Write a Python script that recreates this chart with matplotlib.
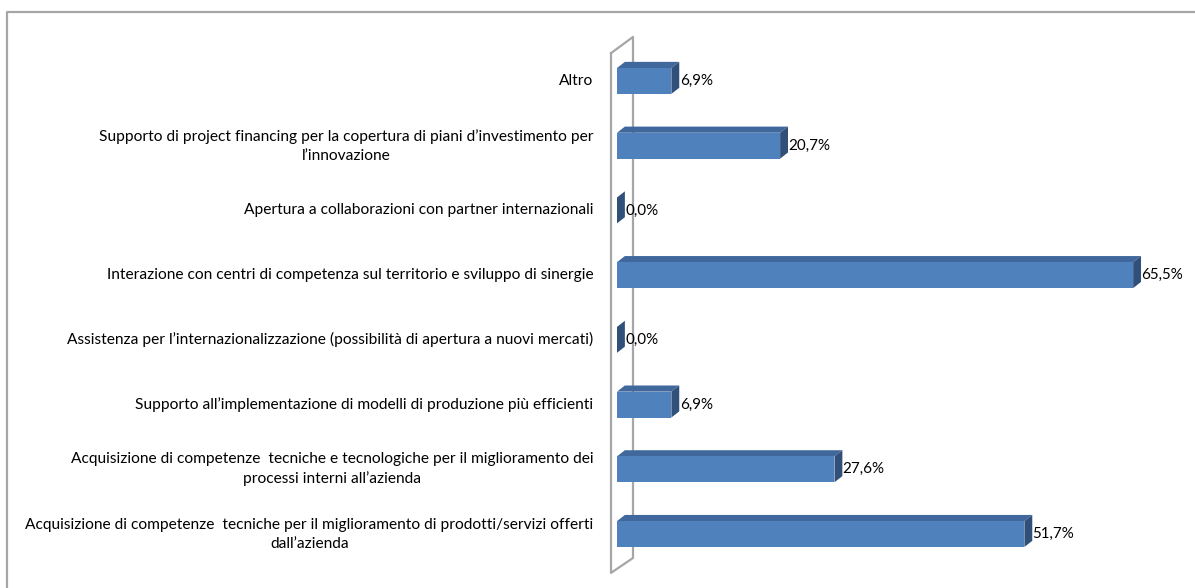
import matplotlib
matplotlib.use('Agg')
import matplotlib.pyplot as plt
from matplotlib.patches import Polygon
from matplotlib.lines import Line2D

# categories listed bottom to top
categories = [
    "Acquisizione di competenze  tecniche per il miglioramento di prodotti/servizi offerti\ndall\u2019azienda",
    "Acquisizione di competenze  tecniche e tecnologiche per il miglioramento dei\nprocessi interni all\u2019azienda",
    "Supporto all\u2019implementazione di modelli di produzione pi\u00f9 efficienti",
    "Assistenza per l\u2019internazionalizzazione (possibilit\u00e0 di apertura a nuovi mercati)",
    "Interazione con centri di competenza sul territorio e sviluppo di sinergie",
    "Apertura a collaborazioni con partner internazionali",
    "Supporto di project financing per la copertura di piani d\u2019investimento per\nl\u2019innovazione",
    "Altro",
]
values = [51.7, 27.6, 6.9, 0.0, 65.5, 0.0, 20.7, 6.9]
value_labels = ["51,7%", "27,6%", "6,9%", "0,0%", "65,5%", "0,0%", "20,7%", "6,9%"]

FRONT = '#4f81bd'
TOP = '#41689c'
SIDE = '#30507a'
WALL = '#a6a6a6'

plt.rcParams['font.family'] = ['Lato', 'DejaVu Sans']

W, H = 1195, 588
fig = plt.figure(figsize=(W / 100, H / 100), dpi=100)

# plot area in pixels: x=0 at 617px, 70% at 1168.6px; rows 64.7px apart
left_px, right_px = 617, 617 + 70 * 7.88
top_px, bot_px = 48.6, 566.4
ax = fig.add_axes([left_px / W, 1 - bot_px / H, (right_px - left_px) / W, (bot_px - top_px) / H])
ax.set_xlim(0, 70)
ax.set_ylim(-0.5, 7.5)
ax.axis('off')

bar_h = 0.40
dx, dy = 1.0, 0.095   # depth of the 3D extrusion in data units

ys = list(range(len(values)))
ax.barh(ys, values, height=bar_h, color=FRONT, edgecolor='none', zorder=3)

val_texts = []
for y, v, lab in zip(ys, values, value_labels):
    y0, y1 = y - bar_h / 2, y + bar_h / 2
    top = Polygon([(0, y1), (v, y1), (v + dx, y1 + dy), (dx, y1 + dy)],
                  closed=True, facecolor=TOP, edgecolor='none', zorder=2)
    side = Polygon([(v, y0), (v + dx, y0 + dy), (v + dx, y1 + dy), (v, y1)],
                   closed=True, facecolor=SIDE, edgecolor='none', zorder=4)
    ax.add_patch(top)
    ax.add_patch(side)
    val_texts.append(ax.text(v + dx + 0.05, y, lab, ha='left', va='center',
                             fontsize=10.5, color='black', zorder=5))

# category labels, right aligned, multi-line centred
cat_texts = []
for y, c in zip(ys, categories):
    cat_texts.append(ax.text(-3.0, y, c, ha='right', va='center', multialignment='center',
                             fontsize=10.5, color='black', linespacing=1.45))

# fit the label sizes to the space left of the wall
renderer = fig.canvas.get_renderer()
probe = fig.text(0, 0, categories[0].split('\n')[0], fontsize=10.5)
w = probe.get_window_extent(renderer).width
probe.remove()
cat_size = 10.5 * 573 / w
for t in cat_texts:
    t.set_fontsize(cat_size)
probe = fig.text(0, 0, "20,7%", fontsize=10.5)
w = probe.get_window_extent(renderer).width
probe.remove()
val_size = 10.5 * 42 / w
for t in val_texts:
    t.set_fontsize(val_size)

# side wall of the 3D plot
fx, bx = -0.76, 2.03
wall = [(fx, 7.43), (bx, 7.68), (bx, -0.37), (fx, -0.60), (fx, 7.43)]
ax.add_line(Line2D([p[0] for p in wall], [p[1] for p in wall], color=WALL,
                   lw=1.6, clip_on=False, zorder=1))

# outer chart frame (left and top edges)
fig.add_artist(Line2D([7 / W, 7 / W, 1.0], [0.0, 1 - 12 / H, 1 - 12 / H],
                      color=WALL, lw=1.6, transform=fig.transFigure))

fig.savefig('out.png', dpi=100, facecolor='white')
